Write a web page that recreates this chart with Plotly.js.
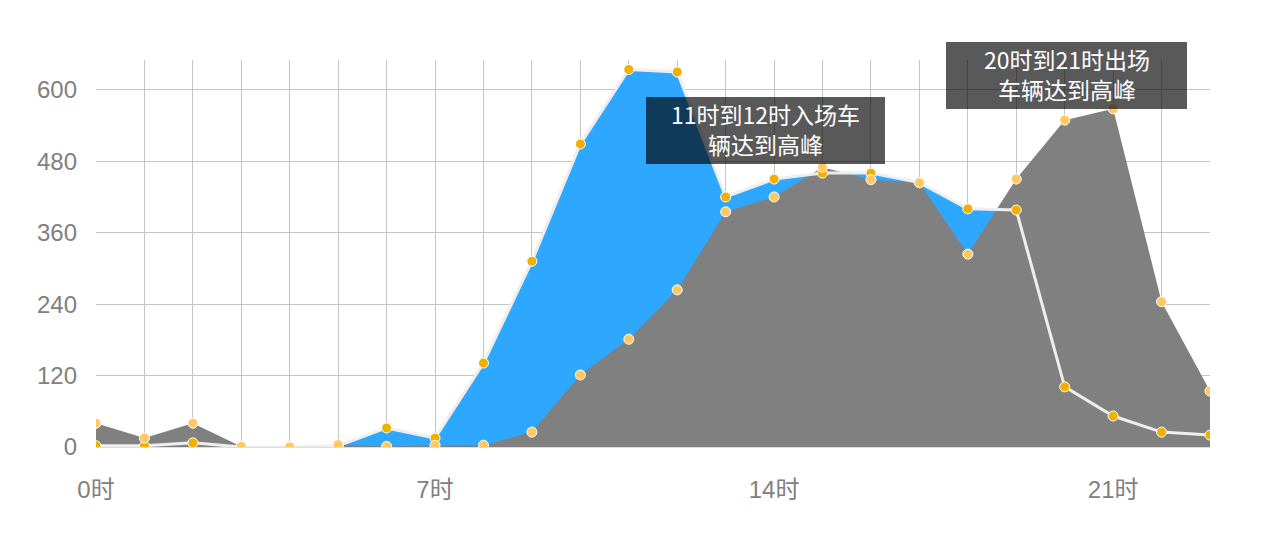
<!DOCTYPE html>
<html>
<head>
<meta charset="utf-8">
<script src="https://cdn.plot.ly/plotly-3.0.1.min.js"></script>
<style>html,body{margin:0;padding:0;background:#fff;}#chart{width:1272px;height:553px;}</style>
</head>
<body>
<div id="chart"></div>
<script>
var hours = [0,1,2,3,4,5,6,7,8,9,10,11,12,13,14,15,16,17,18,19,20,21,22,23];
var hourLabels = hours.map(function(h){return h + '时';});
var entryCars = [2,2,7,0,0,2,32,15,141,312,509,634,630,420,450,460,460,444,400,398,101,52,25,20];
var exitCars  = [40,15,40,1,0,4,1,3,3,25,121,181,264,395,420,470,449,444,324,450,549,568,244,94];
var tickHours = [0,7,14,21];
var note1Lines = ['11时到12时入场车', '辆达到高峰'];
var note2Lines = ['20时到21时出场', '车辆达到高峰'];

var font = 'Liberation Sans, Arial, Noto Sans CJK SC, sans-serif';
var cjk = 'Noto Sans CJK SC, sans-serif';

var traces = [
  {x: hours, y: entryCars, type: 'scatter', mode: 'lines', fill: 'tozeroy',
   fillcolor: '#2ea7ff', line: {width: 0, color: '#2ea7ff'}, hoverinfo: 'skip', showlegend: false},
  {x: hours, y: exitCars, type: 'scatter', mode: 'lines', fill: 'tozeroy',
   fillcolor: '#808080', line: {width: 0, color: '#808080'}, hoverinfo: 'skip', showlegend: false},
  {x: hours, y: entryCars, type: 'scatter', mode: 'lines+markers', name: '入场',
   line: {width: 3, color: '#eeeeee'},
   marker: {size: 10, color: '#f0b000', line: {width: 1, color: '#ffffff'}}, showlegend: false},
  {x: hours, y: exitCars, type: 'scatter', mode: 'markers', name: '出场',
   marker: {size: 10, color: '#ffc860', line: {width: 1, color: '#ffffff'}}, showlegend: false}
];

// pixel helpers for the note boxes (plot area: x 96..1210, y 60..447)
function px(x){ return (x - 96) / 1114; }
function py(y){ return (447 - y) / 387; }

function noteBox(x0, y0, x1, y1){
  return {type: 'rect', xref: 'paper', yref: 'paper', layer: 'above',
          x0: px(x0), x1: px(x1), y0: py(y1), y1: py(y0),
          fillcolor: 'rgba(0,0,0,0.65)', line: {width: 0}};
}
function noteText(lines, cx, cy){
  return {xref: 'paper', yref: 'paper', x: px(cx), y: py(cy), xanchor: 'center', yanchor: 'middle',
          text: lines.join('<br>'), showarrow: false, align: 'center',
          font: {family: cjk, size: 23, color: '#ffffff'}};
}

var layout = {
  width: 1272, height: 553,
  margin: {l: 96, r: 62, t: 60, b: 106},
  paper_bgcolor: '#ffffff', plot_bgcolor: '#ffffff',
  font: {family: font, size: 24, color: '#808080'},
  xaxis: {
    range: [0, 23], tickmode: 'array', tickvals: tickHours,
    ticktext: tickHours.map(function(h){return hourLabels[h];}),
    showgrid: true, gridcolor: '#c4c4c4', gridwidth: 1,
    minor: {dtick: 1, tick0: 0, showgrid: true, gridcolor: '#c4c4c4', gridwidth: 1},
    zeroline: false, showline: false, ticks: '', ticklabelstandoff: 26,
    tickfont: {family: font, size: 24, color: '#808080'}, fixedrange: true
  },
  yaxis: {
    range: [0, 650], tickmode: 'linear', tick0: 0, dtick: 120,
    showgrid: true, gridcolor: '#c4c4c4', gridwidth: 1,
    zeroline: true, zerolinecolor: '#dddddd', zerolinewidth: 2,
    showline: false, ticks: '', ticklabelstandoff: 18,
    tickfont: {family: font, size: 24, color: '#808080'}, fixedrange: true
  },
  shapes: [noteBox(646, 97, 885, 164), noteBox(946, 42, 1187, 109)],
  annotations: [
    noteText(note1Lines, 765.5, 129),
    noteText(note2Lines, 1066.5, 74)
  ]
};

Plotly.newPlot('chart', traces, layout, {displayModeBar: false, staticPlot: true});
</script>
</body>
</html>
